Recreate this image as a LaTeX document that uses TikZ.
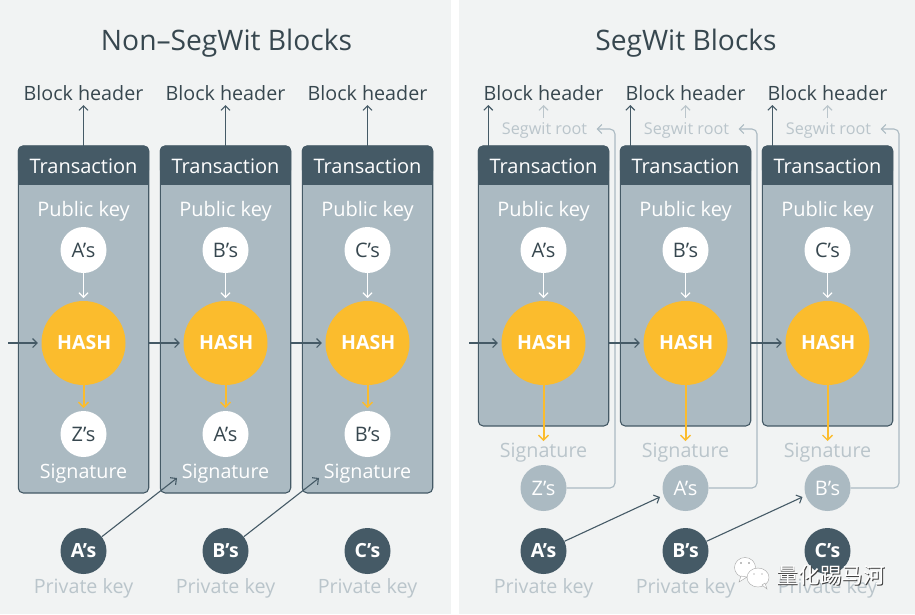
\documentclass[tikz,border=0pt]{standalone}
\usepackage{fontspec}
\setmainfont{Open Sans}
\newfontfamily\cjkf{Noto Sans CJK SC}
\usetikzlibrary{arrows.meta,calc}
\definecolor{bgc}{HTML}{F1F3F3}
\definecolor{darkc}{HTML}{455A66}
\definecolor{midc}{HTML}{ABBAC2}
\definecolor{lightt}{HTML}{BAC5CB}
\definecolor{textc}{HTML}{37474F}
\definecolor{yel}{HTML}{FBBC2D}
\tikzset{
  barb/.style={-{Straight Barb[length=4.5pt,width=9pt,line width=1.1pt]}},
  txt/.style={inner sep=0pt,font=\fontsize{20}{22}\selectfont},
  txtb/.style={inner sep=0pt,font=\fontsize{19.7}{22}\selectfont},
  headt/.style={txtb,text=textc},
  title/.style={inner sep=0pt,font=\fontsize{28.2}{32}\selectfont,text=textc},
  lightlabel/.style={txtb,text=lightt},
  whitelabel/.style={txt,text=white},
  whitesig/.style={txtb,text=white},
  circ/.style={circle,minimum size=46pt,inner sep=0pt},
  pubc/.style={circ,fill=white,text=textc,font=\fontsize{20}{22}\selectfont},
  privc/.style={circ,fill=darkc,text=white,font=\fontsize{19.5}{22}\selectfont\bfseries},
  fadec/.style={circ,fill=midc,text=white,font=\fontsize{20}{22}\selectfont},
  hashc/.style={circle,minimum size=84pt,inner sep=0pt,fill=yel,text=white,font=\fontsize{19.5}{20}\selectfont\bfseries},
  darkarrow/.style={barb,draw=darkc,line width=1.1pt},
  hasharrow/.style={darkarrow,shorten >=3.5pt},
  whitearrow/.style={barb,draw=white,line width=1.2pt},
  yelarrow/.style={-{Straight Barb[length=5pt,width=10pt,line width=1.4pt]},draw=yel,line width=2pt},
  fadearrow/.style={barb,draw=midc,line width=1.1pt},
  boxbody/.style={draw=darkc,line width=1.1pt,fill=midc,rounded corners=5pt},
  boxhead/.style={fill=darkc},
  wmbubble/.style={fill=white,draw=gray!70,line width=0.4pt},
}
\begin{document}
\begin{tikzpicture}[x=1pt,y=-1pt]
\useasboundingbox (0,0) rectangle (915,614);
\fill[white] (0,0) rectangle (915,614);
\fill[bgc] (0,0) rectangle (451,614);
\fill[bgc] (459,0) rectangle (915,614);
\node[title] (ltitle) at (226.5,43) {Non–SegWit Blocks};
\node[title] (rtitle) at (686,43) {SegWit Blocks};

% LEFT
\foreach \cx/\n/\pub/\sig/\priv in {83.5/1/A/Z/A,225.5/2/B/A/B,367.5/3/C/B/C}{
  \node[headt] (lbh\n) at (\cx,93) {Block header};
  \draw[boxbody] (\cx-65.2,146) rectangle (\cx+65.2,493);
  \fill[boxhead,rounded corners=5pt] (\cx-65.7,175) -- (\cx-65.7,145.5) -- (\cx+65.7,145.5) -- (\cx+65.7,175) -- cycle;
  \fill[boxhead] (\cx-65.7,165) rectangle (\cx+65.7,185);
  \node[whitelabel] (ltx\n) at (\cx,166) {Transaction};
  \node[whitelabel] (lpk\n) at (\cx,211) {Public key};
  \node[pubc] (lpub\n) at (\cx,250) {\pub’s};
  \node[hashc] (lhash\n) at (\cx,343) {\hspace{1.5pt}HASH};
  \node[pubc] (lsigc\n) at (\cx,434) {\sig’s};
  \node[whitesig] (lsig\n) at (\cx,473.5) {Signature};
  \node[privc] (lpriv\n) at (\cx,551) {\priv’s};
  \node[lightlabel] (lpl\n) at (\cx,588) {Private key};
  \coordinate (ltop\n) at (\cx,146);
  \coordinate (lhd\n) at (\cx,105);
  \draw[darkarrow] (ltop\n) -- (lhd\n);
  \draw[whitearrow] (lpub\n) -- ($(lpub\n)+(0,48)$);
  \coordinate (lye\n) at (\cx,408);
  \draw[yelarrow] (lhash\n) -- (lye\n);
  \coordinate (lout\n) at (\cx+65.5,343);
}
\coordinate (lin) at (8,343);
\draw[hasharrow] (lin) -- (lhash1);
\draw[hasharrow] (lout1) -- (lhash2);
\draw[hasharrow] (lout2) -- (lhash3);
\coordinate (lsa2) at (177,478);
\coordinate (lsa3) at (319,478);
\draw[darkarrow] (lpriv1) -- (lsa2);
\draw[darkarrow] (lpriv2) -- (lsa3);

% RIGHT
\foreach \cx/\n/\pub/\sig/\priv in {543.5/1/A/Z/A,685.5/2/B/A/B,827.5/3/C/B/C}{
  \node[headt] (rbh\n) at (\cx,93) {Block header};
  \node[lightlabel,font=\fontsize{16.2}{20}\selectfont] (rsr\n) at (\cx+1,130) {Segwit root};
  \draw[boxbody] (\cx-65.2,146) rectangle (\cx+65.2,426);
  \fill[boxhead,rounded corners=5pt] (\cx-65.7,175) -- (\cx-65.7,145.5) -- (\cx+65.7,145.5) -- (\cx+65.7,175) -- cycle;
  \fill[boxhead] (\cx-65.7,165) rectangle (\cx+65.7,185);
  \node[whitelabel] (rtx\n) at (\cx,166) {Transaction};
  \node[whitelabel] (rpk\n) at (\cx,211) {Public key};
  \node[pubc] (rpub\n) at (\cx,250) {\pub’s};
  \node[hashc] (rhash\n) at (\cx,343) {\hspace{1.5pt}HASH};
  \node[lightlabel] (rsig\n) at (\cx,452.5) {Signature};
  \node[fadec] (rsigc\n) at (\cx,488) {\sig’s};
  \node[privc] (rpriv\n) at (\cx,551) {\priv’s};
  \node[lightlabel] (rpl\n) at (\cx,588) {Private key};
  \coordinate (rtop\n) at (\cx-55.2,146);
  \coordinate (rhd\n) at (\cx-55.2,105);
  \draw[darkarrow] (rtop\n) -- (rhd\n);
  \coordinate (rs0\n) at (\cx,118);
  \coordinate (rs1\n) at (\cx,105);
  \draw[fadearrow,draw=lightt] (rs0\n) -- (rs1\n);
  \draw[whitearrow] (rpub\n) -- ($(rpub\n)+(0,48)$);
  \coordinate (rye\n) at (\cx,441);
  \draw[yelarrow] (rhash\n) -- (rye\n);
  \coordinate (rc1\n) at (\cx+71.5,488);
  \coordinate (rc2\n) at (\cx+71.5,129);
  \coordinate (rc3\n) at (\cx+53,129);
  \draw[fadearrow,rounded corners=5pt] (rsigc\n.east) -- (rc1\n) -- (rc2\n) -- (rc3\n);
  \coordinate (rout\n) at (\cx+65.5,343);
}
\coordinate (rin) at (469,343);
\draw[hasharrow] (rin) -- (rhash1);
\draw[hasharrow] (rout1) -- (rhash2);
\draw[hasharrow] (rout2) -- (rhash3);
\coordinate (rsa2) at (660,497);
\coordinate (rsa3) at (802.5,497);
\draw[darkarrow] (rpriv1) -- (rsa2);
\draw[darkarrow] (rpriv2) -- (rsa3);

% watermark
\path[wmbubble] (745,567.5) ellipse (10.5 and 10);
\path[wmbubble] (741,576) -- (739,582) -- (747,577) -- cycle;
\path[wmbubble] (758,577.5) ellipse (11 and 9.5);
\path[wmbubble] (762,585) -- (767,589) -- (765,583) -- cycle;
\fill[gray] (741,563) circle (0.8) (749,563) circle (0.8) (754,574) circle (0.7) (762,574) circle (0.7);
\node[inner sep=0pt,text=black!75,font=\cjkf\fontsize{21.6}{24}\selectfont] (wmsh) at (831.8,575.8) {量化踢马河};
\node[inner sep=0pt,text=white,font=\cjkf\fontsize{21.6}{24}\selectfont] (wm) at (831,575) {量化踢马河};
\end{tikzpicture}
\end{document}
